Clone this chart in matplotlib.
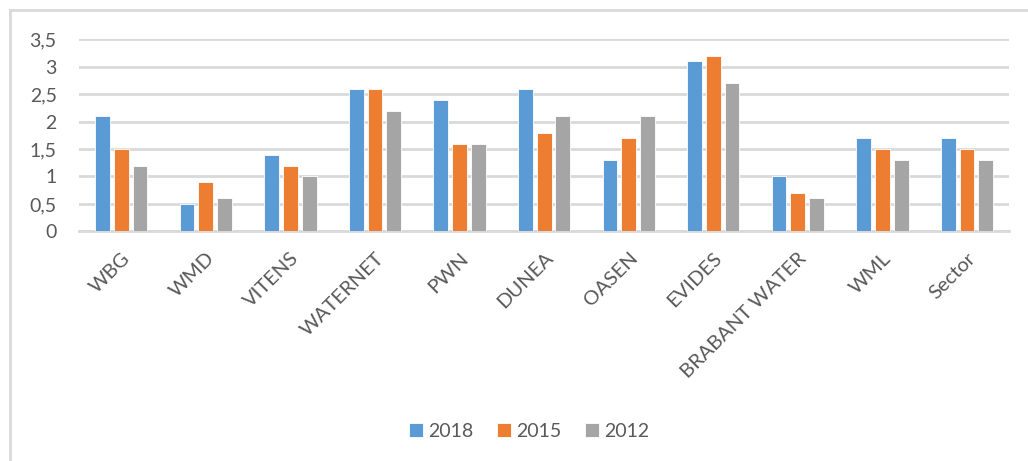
import matplotlib.pyplot as plt
import numpy as np
from matplotlib.lines import Line2D
from matplotlib.ticker import FuncFormatter

categories = ["WBG", "WMD", "VITENS", "WATERNET", "PWN", "DUNEA", "OASEN",
              "EVIDES", "BRABANT WATER", "WML", "Sector"]
years = ["2018", "2015", "2012"]
v2018 = [2.1, 0.5, 1.4, 2.6, 2.4, 2.6, 1.3, 3.1, 1.0, 1.7, 1.7]
v2015 = [1.5, 0.9, 1.2, 2.6, 1.6, 1.8, 1.7, 3.2, 0.7, 1.5, 1.5]
v2012 = [1.2, 0.6, 1.0, 2.2, 1.6, 2.1, 2.1, 2.7, 0.6, 1.3, 1.3]
colors = ["#5B9BD5", "#ED7D31", "#A5A5A5"]

plt.rcParams["font.family"] = ["Lato", "DejaVu Sans"]
text_color = "#595959"
grid_color = "#D9D9D9"

fig = plt.figure(figsize=(10.28, 4.61), dpi=100)
ax = fig.add_axes([0.0768, 0.498, 0.905, 0.417])

x = np.arange(len(categories))
width = 0.175
step = 0.222
for i, (vals, year) in enumerate(zip([v2018, v2015, v2012], years)):
    ax.bar(x + (i - 1) * step, vals, width, color=colors[i], label=year,
           edgecolor="white", linewidth=0.6, zorder=3)

ax.set_xlim(-0.5, len(categories) - 0.5)
ax.set_ylim(0, 3.5)
ax.set_yticks(np.arange(0, 3.51, 0.5))
ax.yaxis.set_major_formatter(
    FuncFormatter(lambda v, p: (f"{v:g}").replace(".", ",")))
ax.grid(axis="y", color=grid_color, linewidth=2, zorder=0)
ax.set_axisbelow(True)
for s in ["top", "right", "left"]:
    ax.spines[s].set_visible(False)
ax.spines["bottom"].set_color(grid_color)
ax.spines["bottom"].set_linewidth(2)
ax.tick_params(axis="y", length=0, pad=16, labelsize=14, labelcolor=text_color)
ax.tick_params(axis="x", length=0, pad=13, labelsize=14.5, labelcolor=text_color)
ax.set_xticks(x)
ax.set_xticklabels(categories, rotation=45, ha="right", va="top",
                   rotation_mode="anchor")

leg = ax.legend(loc="center", ncol=3, frameon=False, fontsize=14,
                handlelength=0.7, handleheight=0.7, handletextpad=0.3,
                columnspacing=1.2)
leg.set_bbox_to_anchor((0.515, 0.065), transform=fig.transFigure)
for t in leg.get_texts():
    t.set_color(text_color)

# chart frame (left and top edges visible)
fig.add_artist(Line2D([9.5 / 1028, 9.5 / 1028], [0, 1 - 10 / 461],
                      transform=fig.transFigure, color=grid_color, linewidth=2))
fig.add_artist(Line2D([9.5 / 1028, 1], [1 - 10 / 461, 1 - 10 / 461],
                      transform=fig.transFigure, color=grid_color, linewidth=2))

fig.savefig("out.png", dpi=100)
